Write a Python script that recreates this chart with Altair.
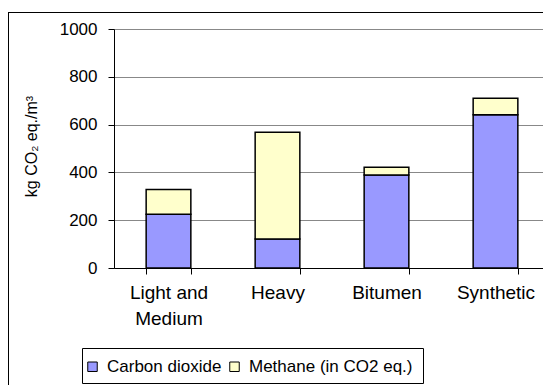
import altair as alt
import pandas as pd

categories = ["Light and Medium", "Heavy", "Bitumen", "Synthetic"]
series = ["Carbon dioxide", "Methane (in CO2 eq.)"]
co2 = [225, 121, 389, 641]
methane = [103, 447, 33, 69]
colors = ["#9999FF", "#FFFFCC"]
y_ticks = [0, 200, 400, 600, 800, 1000]

rows = []
for i, c in enumerate(categories):
    rows.append({"cat": c, "series": series[0], "value": co2[i], "ord": 0})
    rows.append({"cat": c, "series": series[1], "value": methane[i], "ord": 1})
df = pd.DataFrame(rows)

FONT = "Liberation Sans"
W, H = 429, 239

one = pd.DataFrame({"a": [0]})
border_top = alt.Chart(one).mark_rule(color="black", strokeWidth=1).encode(
    x=alt.value(-106), x2=alt.value(429), y=alt.value(-16.5)
)
border_left = alt.Chart(one).mark_rule(color="black", strokeWidth=1).encode(
    x=alt.value(-105.5), y=alt.value(-17), y2=alt.value(356)
)

legend_box = alt.Chart(one).mark_rect(
    fill="transparent", stroke="black", strokeWidth=1
).encode(
    x=alt.value(-31.5), x2=alt.value(309.5), y=alt.value(319.5), y2=alt.value(354.5)
)

bars = alt.Chart(df).mark_bar(stroke="black", strokeWidth=1.5).encode(
    x=alt.X("cat:N", sort=categories, title=None,
            scale=alt.Scale(range=[0, 436], paddingInner=0.59, paddingOuter=0.295),
            axis=alt.Axis(labelAngle=0, tickBand="extent", domainColor="black",
                          tickColor="black", tickSize=6, labelFontSize=19,
                          labelFont=FONT, labelColor="black", labelPadding=9,
                          labelLineHeight=26,
                          labelExpr="datum.value == 'Light and Medium' ? ['Light and', 'Medium'] : datum.value")),
    y=alt.Y("value:Q", stack="zero", title="kg CO₂ eq./m³",
            scale=alt.Scale(domain=[0, 1000], nice=False),
            axis=alt.Axis(values=y_ticks, format="d", grid=True, gridColor="#888888",
                          domainColor="black", tickColor="black", tickSize=6,
                          labelFontSize=17, labelFont=FONT, labelColor="black",
                          labelPadding=11, titleFont=FONT, titleFontSize=16,
                          titleFontWeight="normal", titleColor="black",
                          titleAngle=270, titleAlign="center", titleBaseline="bottom",
                          titleX=-75, titleY=117)),
    color=alt.Color("series:N", sort=series,
                    scale=alt.Scale(domain=series, range=colors),
                    legend=alt.Legend(title=None, orient="none", legendX=-30,
                                      legendY=329, direction="horizontal",
                                      symbolType="square", symbolSize=90,
                                      symbolStrokeColor="black", symbolStrokeWidth=1,
                                      symbolOpacity=1, labelLimit=0,
                                      labelFontSize=17, labelFont=FONT,
                                      labelColor="black", labelOffset=6,
                                      columnPadding=4, padding=0)),
    order=alt.Order("ord:Q"),
)

chart = alt.layer(border_top, border_left, legend_box, bars).properties(
    width=W, height=H,
    autosize=alt.AutoSizeParams(type="none"),
    padding={"left": 106, "top": 21, "right": 0, "bottom": 117},
).configure_view(stroke=None).configure(background="white")

chart.save("out.html", embed_options={"renderer": "svg", "actions": False})
